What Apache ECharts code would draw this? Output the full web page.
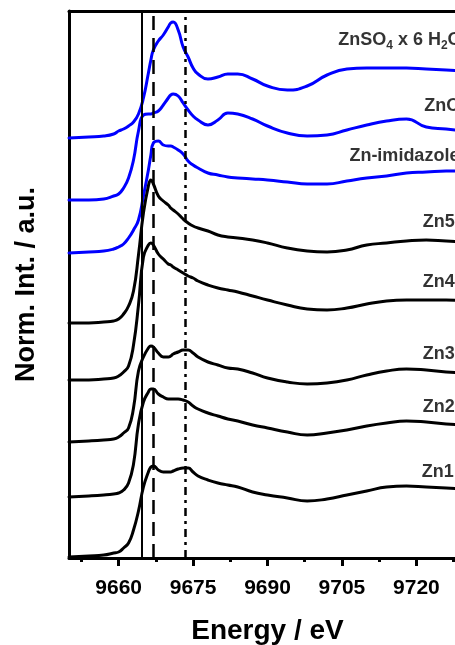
<!DOCTYPE html>
<html><head><meta charset="utf-8">
<script src="https://cdn.jsdelivr.net/npm/echarts@6/dist/echarts.min.js"></script>
<style>html,body{margin:0;padding:0;background:#fff}#c{width:455px;height:645px}</style>
</head><body><div id="c"></div>
<script>
// Energy grid (eV)
const energy = [9650, 9654, 9657, 9659, 9660, 9661, 9662, 9663, 9664, 9665, 9666, 9666.5, 9667, 9668, 9669, 9670, 9670.5, 9671, 9672, 9673, 9674, 9675, 9676, 9678, 9680, 9682, 9684, 9687, 9690, 9694, 9698, 9702, 9706, 9710, 9714, 9718, 9722, 9726, 9730];

// Stacked normalized intensities (a.u., offsets included)
const znso4 = [4.20, 4.21, 4.22, 4.24, 4.27, 4.29, 4.32, 4.36, 4.44, 4.60, 4.85, 4.98, 5.08, 5.17, 5.23, 5.31, 5.35, 5.36, 5.28, 5.11, 5.01, 4.90, 4.84, 4.79, 4.81, 4.84, 4.84, 4.79, 4.72, 4.68, 4.72, 4.83, 4.89, 4.90, 4.90, 4.90, 4.89, 4.88, 4.87];
const zno = [3.58, 3.58, 3.59, 3.62, 3.64, 3.70, 3.80, 3.98, 4.27, 4.43, 4.44, 4.44, 4.45, 4.47, 4.53, 4.60, 4.63, 4.64, 4.62, 4.55, 4.48, 4.42, 4.38, 4.33, 4.38, 4.45, 4.44, 4.39, 4.32, 4.25, 4.22, 4.23, 4.28, 4.33, 4.37, 4.39, 4.31, 4.29, 4.27];
const znImidazole = [3.05, 3.06, 3.07, 3.09, 3.11, 3.14, 3.20, 3.28, 3.38, 3.62, 3.88, 4.03, 4.15, 4.17, 4.13, 4.12, 4.12, 4.11, 4.08, 4.04, 3.97, 3.93, 3.90, 3.85, 3.83, 3.81, 3.80, 3.79, 3.78, 3.76, 3.74, 3.74, 3.77, 3.80, 3.82, 3.85, 3.86, 3.87, 3.87];
const zn5 = [2.35, 2.35, 2.36, 2.37, 2.39, 2.44, 2.52, 2.67, 3.03, 3.45, 3.72, 3.78, 3.74, 3.62, 3.57, 3.53, 3.50, 3.48, 3.44, 3.39, 3.35, 3.32, 3.30, 3.27, 3.23, 3.21, 3.20, 3.18, 3.15, 3.10, 3.07, 3.06, 3.08, 3.13, 3.15, 3.17, 3.18, 3.17, 3.16];
const zn4 = [1.78, 1.78, 1.79, 1.80, 1.82, 1.86, 1.92, 2.13, 2.53, 3.01, 3.13, 3.15, 3.13, 3.04, 2.99, 2.94, 2.93, 2.91, 2.88, 2.85, 2.82, 2.80, 2.77, 2.73, 2.70, 2.68, 2.66, 2.62, 2.58, 2.53, 2.49, 2.48, 2.50, 2.54, 2.57, 2.58, 2.58, 2.58, 2.57];
const zn3 = [1.16, 1.17, 1.18, 1.19, 1.21, 1.25, 1.30, 1.50, 1.87, 2.01, 2.10, 2.12, 2.11, 2.05, 2.01, 2.01, 2.02, 2.04, 2.06, 2.08, 2.08, 2.05, 2.01, 1.96, 1.93, 1.90, 1.89, 1.85, 1.80, 1.76, 1.74, 1.75, 1.78, 1.83, 1.87, 1.89, 1.88, 1.86, 1.85];
const zn2 = [0.61, 0.62, 0.63, 0.64, 0.65, 0.68, 0.75, 0.94, 1.34, 1.56, 1.66, 1.69, 1.69, 1.64, 1.61, 1.59, 1.59, 1.59, 1.59, 1.58, 1.56, 1.52, 1.49, 1.45, 1.42, 1.39, 1.37, 1.33, 1.30, 1.26, 1.23, 1.25, 1.28, 1.32, 1.35, 1.37, 1.36, 1.34, 1.33];
const zn1 = [0.01, 0.02, 0.03, 0.05, 0.06, 0.10, 0.15, 0.28, 0.47, 0.71, 0.86, 0.91, 0.92, 0.88, 0.86, 0.86, 0.86, 0.87, 0.89, 0.90, 0.90, 0.86, 0.82, 0.78, 0.75, 0.73, 0.71, 0.66, 0.63, 0.60, 0.57, 0.59, 0.63, 0.67, 0.71, 0.72, 0.71, 0.70, 0.69];

// Axis ticks
const majorTicks = [9660, 9675, 9690, 9705, 9720];
const minorTicks = [9652.5, 9667.5, 9682.5, 9697.5, 9712.5, 9727.5];

// Reference energies (vertical lines)
const refSolid = 9664.6, refDashed = 9667.0, refDashDot = 9673.45;

// Curve labels
const labelTexts = ['ZnSO{s|4} x 6 H{s|2}O', 'ZnO', 'Zn-imidazole', 'Zn5', 'Zn4', 'Zn3', 'Zn2', 'Zn1'];
const labelE = [9704.15, 9721.5, 9706.4, 9721.2, 9721.2, 9721.2, 9721.2, 9721.0];
const labelH = [5.18, 4.515, 4.02, 3.355, 2.76, 2.04, 1.505, 0.855];

const BLUE = '#0000ff', BLACK = '#000000';
const FONT = 'Arial, "Liberation Sans", Helvetica, sans-serif';
const spectra = [
  { name: 'ZnSO4 x 6 H2O', data: znso4, color: BLUE },
  { name: 'ZnO', data: zno, color: BLUE },
  { name: 'Zn-imidazole', data: znImidazole, color: BLUE },
  { name: 'Zn5', data: zn5, color: BLACK },
  { name: 'Zn4', data: zn4, color: BLACK },
  { name: 'Zn3', data: zn3, color: BLACK },
  { name: 'Zn2', data: zn2, color: BLACK },
  { name: 'Zn1', data: zn1, color: BLACK }
];

const series = spectra.map(s => ({
  type: 'line', name: s.name,
  data: energy.map((e, i) => [e, s.data[i]]),
  showSymbol: false, symbol: 'none',
  smooth: 0.5,
  lineStyle: { color: s.color, width: 3, join: 'round', cap: 'round' },
  itemStyle: { color: s.color },
  z: 3, silent: true, animation: false
}));

series.push({
  type: 'line', name: 'refs', data: [], z: 1, silent: true, animation: false,
  markLine: {
    silent: true, symbol: ['none', 'none'], animation: false,
    label: { show: false },
    data: [
      { xAxis: refSolid, lineStyle: { color: BLACK, width: 2, type: 'solid' } },
      { xAxis: refDashed, lineStyle: { color: BLACK, width: 2.5, type: [14, 8] } },
      { xAxis: refDashDot, lineStyle: { color: BLACK, width: 2.5, type: [8, 5, 3, 5] } }
    ]
  }
});

series.push({
  type: 'scatter', name: 'labels', silent: true, animation: false,
  symbolSize: 1, itemStyle: { color: 'rgba(0,0,0,0)' }, z: 5,
  data: labelTexts.map((t, i) => ({ value: [labelE[i], labelH[i]], label: { formatter: t } })),
  label: {
    show: true, position: 'right', distance: 0, color: BLACK,
    fontFamily: FONT, fontSize: 18, fontWeight: 'bold', lineHeight: 21,
    rich: { s: { fontFamily: FONT, fontSize: 12, fontWeight: 'bold', color: BLACK, lineHeight: 12, padding: [10, 0, 0, 0], verticalAlign: 'top' } }
  }
});

const chart = echarts.init(document.getElementById('c'), null, { renderer: 'canvas' });
chart.setOption({
  animation: false,
  backgroundColor: '#ffffff',
  grid: { left: 69, top: 11, width: 397, height: 547, containLabel: false, outerBoundsMode: 'none' },
  xAxis: [
    {
      type: 'value', min: 9650, max: 9730, position: 'bottom',
      axisLine: { show: true, onZero: false, lineStyle: { color: BLACK, width: 3 } },
      axisTick: { show: true, customValues: majorTicks, length: 8, lineStyle: { color: BLACK, width: 3 } },
      axisLabel: { show: true, customValues: majorTicks, formatter: v => String(v), color: BLACK, fontFamily: FONT, fontSize: 21, fontWeight: 'bold', margin: 20 },
      splitLine: { show: false },
      name: 'Energy / eV', nameLocation: 'middle', nameGap: 59,
      nameTextStyle: { color: BLACK, fontFamily: FONT, fontSize: 28, fontWeight: 'bold' }
    },
    {
      type: 'value', min: 9650, max: 9730, position: 'bottom',
      axisLine: { show: false },
      axisTick: { show: true, customValues: minorTicks, length: 4, lineStyle: { color: BLACK, width: 3 } },
      axisLabel: { show: false }, splitLine: { show: false }
    },
    {
      type: 'value', min: 9650, max: 9730, position: 'top',
      axisLine: { show: true, onZero: false, lineStyle: { color: BLACK, width: 3 } },
      axisTick: { show: false }, axisLabel: { show: false }, splitLine: { show: false }
    }
  ],
  yAxis: [
    {
      type: 'value', min: 0, max: 5.47, position: 'left',
      axisLine: { show: true, onZero: false, lineStyle: { color: BLACK, width: 3 } },
      axisTick: { show: false }, axisLabel: { show: false }, splitLine: { show: false },
      name: 'Norm. Int. / a.u.', nameLocation: 'middle', nameGap: 29,
      nameTextStyle: { color: BLACK, fontFamily: FONT, fontSize: 27, fontWeight: 'bold' }
    },
    {
      type: 'value', min: 0, max: 5.47, position: 'right',
      axisLine: { show: true, onZero: false, lineStyle: { color: BLACK, width: 3 } },
      axisTick: { show: false }, axisLabel: { show: false }, splitLine: { show: false }
    }
  ],
  series: series
});
</script></body></html>
